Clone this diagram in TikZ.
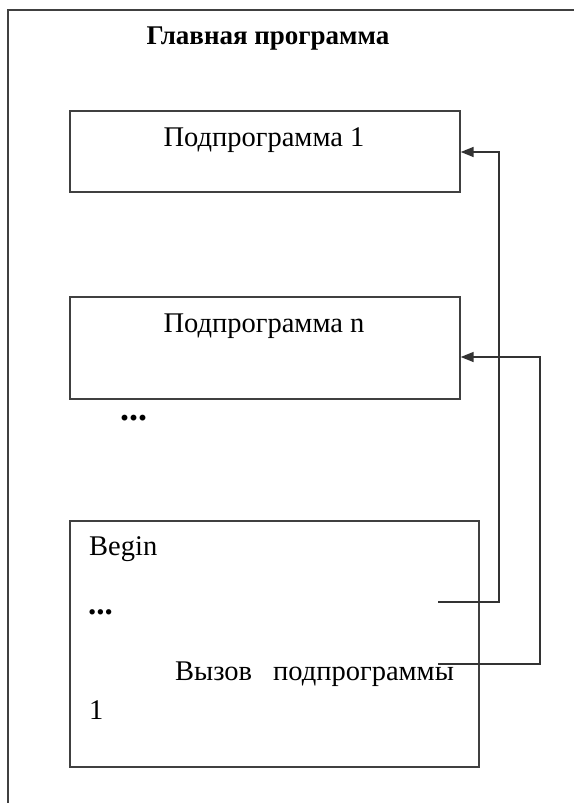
\documentclass[tikz,border=0pt]{standalone}
\usepackage{fontspec}
\setmainfont{Liberation Serif}
\usetikzlibrary{arrows.meta}
\begin{document}
\begin{tikzpicture}[x=1pt,y=-1pt,
  frame/.style={draw=black!75,line width=1.7pt},
  boxnode/.style={frame,rectangle,inner sep=0pt,anchor=north west},
  txt/.style={inner sep=0pt,font=\fontsize{28.5}{34}\selectfont},
  dots/.style={inner sep=0pt,anchor=west,font=\fontsize{36}{40}\selectfont\bfseries},
  conn/.style={draw=black!80,line width=1.7pt},
  arr/.style={conn,-{Triangle[length=13pt,width=10pt]}}]
\useasboundingbox (0,0) rectangle (574,803);
\fill[white] (0,0) rectangle (574,803);
% outer frame (cut at the right and bottom)
\coordinate (o1) at (8,803);
\coordinate (o2) at (8,10);
\coordinate (o3) at (574,10);
\draw[frame] (o1) -- (o2) -- (o3);
\node[txt,font=\fontsize{27}{32}\selectfont\bfseries] (title) at (268,39) {Главная программа};
% boxes
\node[boxnode,minimum width=390pt,minimum height=81pt] (b1) at (69,110) {};
\node[txt] (t1) at (264,140) {Подпрограмма 1};
\node[boxnode,minimum width=390pt,minimum height=102pt] (b2) at (69,296) {};
\node[txt] (t2) at (264,326) {Подпрограмма n};
\node[dots] (d1) at (120,418) {...};
\node[boxnode,minimum width=409pt,minimum height=246pt] (b3) at (69,520) {};
\node[txt,anchor=west] (beg) at (89,549) {Begin};
\node[dots,font=\fontsize{33}{38}\selectfont\bfseries] (d2) at (88,612) {...};
\node[txt,anchor=west] (call) at (175,674) {Вызов\hspace{21pt}подпрограммы};
\node[txt,anchor=west] (one) at (89,710) {1};
% connectors
\coordinate (a1) at (438,602);
\coordinate (k1) at (499,152);
\coordinate (a2) at (438,664);
\coordinate (k2) at (540,357);
\draw[arr] (a1) -| (k1) -- (k1 -| b1.east);
\draw[arr] (a2) -| (k2) -- (k2 -| b2.east);
\end{tikzpicture}
\end{document}
